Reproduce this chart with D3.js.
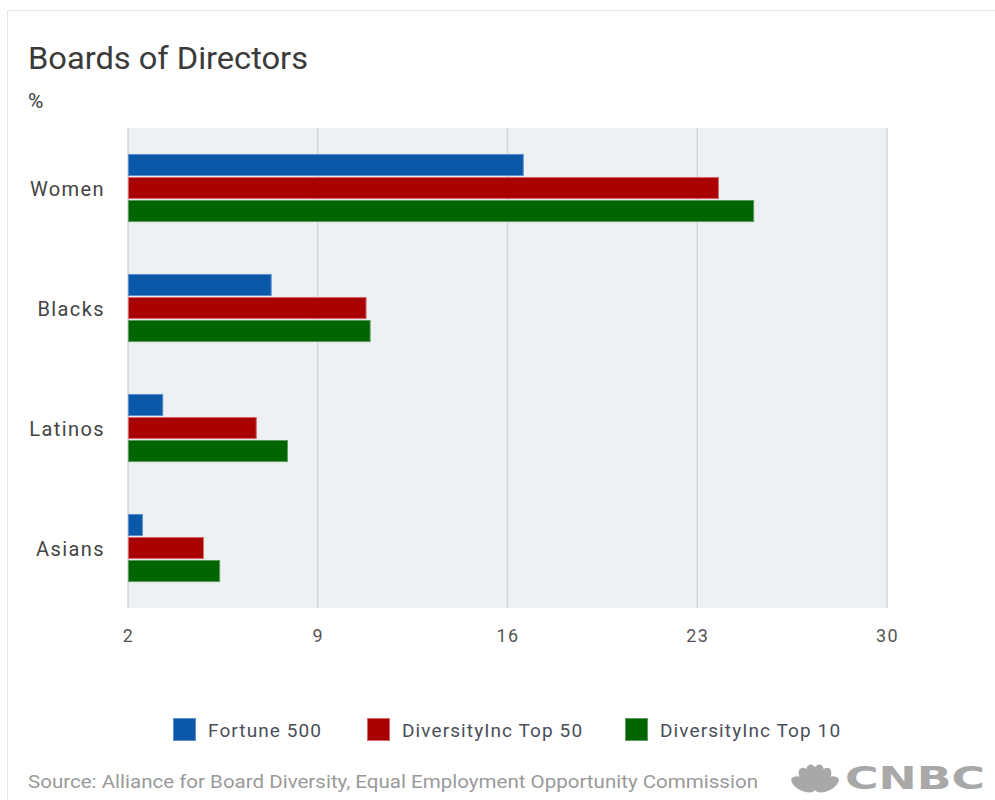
<!DOCTYPE html>
<html>
<head>
<meta charset="utf-8">
<script src="https://cdn.jsdelivr.net/npm/d3@7"></script>
<style>
  body { margin: 0; background: #fff; }
  text { font-family: Roboto, "Open Sans", sans-serif; }
</style>
</head>
<body>
<svg id="chart"></svg>
<script>
const categories = ["Women", "Blacks", "Latinos", "Asians"];
const seriesNames = ["Fortune 500", "DiversityInc Top 50", "DiversityInc Top 10"];
const fortune500 = [16.6, 7.3, 3.3, 2.55];
const top50 = [23.8, 10.8, 6.75, 4.8];
const top10 = [25.1, 10.95, 7.9, 5.4];
const tickValues = [2, 9, 16, 23, 30];
const colors = ["#0b58a8", "#a90000", "#006400"];
const strokes = ["#5d8fca", "#d46a6a", "#5c9c5c"];

const W = 995, H = 800;
const margin = {top: 128, left: 128, right: 108, bottom: 192};
const width = W - margin.left - margin.right,
      height = H - margin.top - margin.bottom;

const svg = d3.select("#chart")
    .attr("width", W)
    .attr("height", H);

// outer frame
svg.append("rect")
    .attr("x", 7.5).attr("y", 10.5)
    .attr("width", 1000).attr("height", 800)
    .attr("fill", "none")
    .attr("stroke", "#e6e6e6");

svg.append("text")
    .attr("x", 28).attr("y", 69)
    .attr("fill", "#3a3a3a")
    .style("font-size", "32px")
    .attr("textLength", 280)
    .attr("lengthAdjust", "spacingAndGlyphs")
    .text("Boards of Directors");

svg.append("text")
    .attr("x", 28).attr("y", 108)
    .attr("fill", "#3a3a3a")
    .style("font-size", "21px")
    .text("%");

const g = svg.append("g")
    .attr("transform", `translate(${margin.left},${margin.top})`);

const x = d3.scaleLinear().domain([2, 30]).range([0, width]);
const y = d3.scaleBand().domain(categories).range([0, height]).paddingInner(0).paddingOuter(0);
const ySub = d3.scaleBand().domain(seriesNames).range([25, 95]).padding(0.04);

g.append("rect")
    .attr("width", width).attr("height", height)
    .attr("fill", "#eef1f3");

// grid lines
g.selectAll(".grid")
    .data(tickValues)
    .enter().append("line")
    .attr("x1", d => x(d)).attr("x2", d => x(d))
    .attr("y1", 0).attr("y2", height)
    .attr("stroke", "#d3d6da")
    .attr("stroke-width", 1.5);

const xAxis = g.append("g")
    .attr("transform", `translate(0,${height})`)
    .call(d3.axisBottom(x).tickValues(tickValues).tickSize(0).tickPadding(21));
xAxis.select(".domain").remove();
xAxis.selectAll("text")
    .attr("fill", "#555")
    .style("font-size", "18px")
    .style("letter-spacing", "1.5px");

const yAxis = g.append("g")
    .call(d3.axisLeft(y).tickSize(0).tickPadding(23));
yAxis.select(".domain").remove();
yAxis.selectAll("text")
    .attr("fill", "#444")
    .attr("dy", "0.42em")
    .style("font-size", "20px")
    .style("letter-spacing", "1.4px");

const seriesData = [fortune500, top50, top10];
const rows = [];
categories.forEach((c, i) => {
    seriesNames.forEach((s, j) => {
        rows.push({cat: c, series: s, idx: j, value: seriesData[j][i]});
    });
});

g.selectAll(".bar")
    .data(rows)
    .enter().append("rect")
    .attr("class", "bar")
    .attr("x", x(2) + 0.5)
    .attr("y", d => y(d.cat) + ySub(d.series) + 0.5)
    .attr("width", d => x(d.value) - x(2) - 1)
    .attr("height", ySub.bandwidth() - 1)
    .attr("fill", d => colors[d.idx])
    .attr("stroke", d => strokes[d.idx])
    .attr("stroke-width", 1);

// legend
const legendX = [173, 367, 625];
const legend = svg.append("g");
seriesNames.forEach((s, j) => {
    legend.append("rect")
        .attr("x", legendX[j] + 0.5).attr("y", 718.5)
        .attr("width", 22).attr("height", 22)
        .attr("fill", colors[j])
        .attr("stroke", strokes[j]);
    legend.append("text")
        .attr("x", legendX[j] + 35).attr("y", 737)
        .attr("fill", "#4a4f5a")
        .style("font-size", "19px")
        .style("letter-spacing", "1.1px")
        .text(s);
});

svg.append("text")
    .attr("x", 28).attr("y", 788)
    .attr("fill", "#9a9a9a")
    .style("font-size", "19px")
    .attr("textLength", 730)
    .attr("lengthAdjust", "spacingAndGlyphs")
    .text("Source: Alliance for Board Diversity, Equal Employment Opportunity Commission");

// CNBC mark
const logo = svg.append("g").attr("transform", "translate(790,760)");
const feathers = [-64, -34, -11, 11, 34, 64];
feathers.forEach(a => {
    logo.append("ellipse")
        .attr("cx", 0).attr("cy", -13)
        .attr("rx", 6.5).attr("ry", 13)
        .attr("fill", "#a8a8a8")
        .attr("transform", `translate(25,30) rotate(${a})`);
});
logo.append("text")
    .attr("x", 55).attr("y", 29)
    .attr("fill", "#a8a8a8")
    .style("font-family", "'DejaVu Sans', sans-serif")
    .style("font-weight", "bold")
    .style("font-size", "32px")
    .attr("textLength", 140)
    .attr("lengthAdjust", "spacingAndGlyphs")
    .text("CNBC");
</script>
</body>
</html>
